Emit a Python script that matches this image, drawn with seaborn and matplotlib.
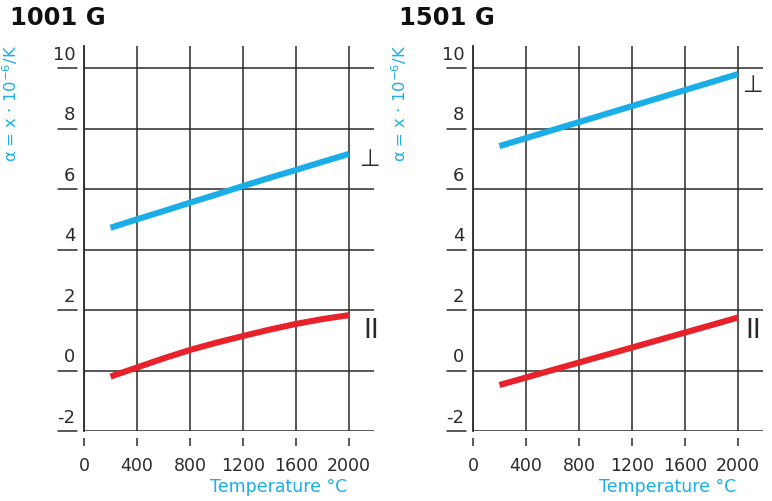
import matplotlib
matplotlib.use("Agg")
import matplotlib.pyplot as plt
import matplotlib.transforms as mtransforms
import numpy as np
import pandas as pd
import seaborn as sns

# Thermal expansion coefficient vs. temperature for two graphite grades
temps_1001 = [200, 400, 600, 800, 1000, 1200, 1400, 1600, 1800, 2000]
perp_1001 = [4.72, 5.00, 5.27, 5.55, 5.82, 6.10, 6.37, 6.63, 6.90, 7.16]
par_1001 = [-0.20, 0.10, 0.40, 0.68, 0.92, 1.14, 1.35, 1.54, 1.70, 1.83]

temps_1501 = [200, 2000]
perp_1501 = [7.42, 9.80]
par_1501 = [-0.48, 1.75]

x_ticks = [0, 400, 800, 1200, 1600, 2000]
y_ticks = [-2, 0, 2, 4, 6, 8, 10]
panel_titles = ["1001 G", "1501 G"]
perp_symbol = "⊥"
par_symbol = "II"
y_label = "α = x · 10$^{-6}$/K"
x_label = "Temperature °C"

BLUE = "#1aaee8"
RED = "#e8222b"
INK = "#2b2b2b"

sns.set_theme(style="white")
plt.rcParams["font.family"] = ["DejaVu Sans"]

fig = plt.figure(figsize=(7.72, 5.01), dpi=100)
W, H = 772, 501


def draw_panel(left_px, temps, perp, par, title, sym_pos):
    ax = fig.add_axes([left_px / W, 70 / H, 290 / W, 385 / H])
    df = pd.DataFrame({
        "T": list(temps) + list(temps),
        "a": list(perp) + list(par),
        "dir": ["perp"] * len(temps) + ["par"] * len(temps),
    })
    sns.lineplot(data=df, x="T", y="a", hue="dir",
                 palette={"perp": BLUE, "par": RED},
                 linewidth=4.4, legend=False, ax=ax, zorder=5)
    for ln in ax.lines:
        ln.set_solid_capstyle("butt")
        ln.set_solid_joinstyle("round")

    ax.set_xlim(0, 2190)
    ax.set_ylim(-2, 10.73)
    ax.set_xticks(x_ticks)
    ax.set_yticks(y_ticks)
    ax.grid(True, color=INK, linewidth=1.1)
    ax.set_axisbelow(True)
    ax.set_xlabel("")
    ax.set_ylabel("")

    for s in ["top", "right"]:
        ax.spines[s].set_visible(False)
    ax.spines["left"].set_color(INK)
    ax.spines["left"].set_linewidth(1.3)
    ax.spines["bottom"].set_position(("outward", 5))
    ax.spines["bottom"].set_color("none")

    ax.tick_params(axis="x", direction="out", length=6, width=1.1,
                   color=INK, pad=8, labelsize=12.5, labelcolor=INK,
                   bottom=True)
    ax.tick_params(axis="y", left=False, labelleft=False)

    # y tick labels sitting on short leader lines left of the spine
    blend = mtransforms.blended_transform_factory(ax.transAxes, ax.transData)
    lift = mtransforms.offset_copy(blend, fig=fig, x=0, y=3, units="points")
    for v in y_ticks:
        ax.plot([-0.09, -0.025], [v, v], color=INK, linewidth=1.1,
                transform=blend, clip_on=False)
        ax.text(-0.03, v, str(v), transform=lift, ha="right", va="bottom",
                fontsize=13, color=INK)

    (px, py), (qx, qy) = sym_pos
    ax.text(px, py, perp_symbol, ha="center", va="center", fontsize=17,
            color=INK, clip_on=False)
    ax.text(qx, qy, par_symbol, ha="center", va="center", fontsize=19,
            color=INK, clip_on=False)

    fig.text((left_px - 74) / W, (H - 18) / H, title, ha="left",
             va="center", fontsize=17.5, fontweight="bold", color="#111111")
    fig.text((left_px - 74) / W, (H - 45) / H, y_label, rotation=90,
             ha="center", va="top", fontsize=11.8, color=BLUE)
    fig.text((left_px + 195) / W, (H - 487) / H, x_label, ha="center",
             va="center", fontsize=12.5, color=BLUE)
    return ax


draw_panel(84, temps_1001, perp_1001, par_1001, panel_titles[0],
           ((2160, 6.98), (2170, 1.31)))
draw_panel(473, temps_1501, perp_1501, par_1501, panel_titles[1],
           ((2120, 9.44), (2120, 1.31)))

fig.savefig("out.png", dpi=100)
